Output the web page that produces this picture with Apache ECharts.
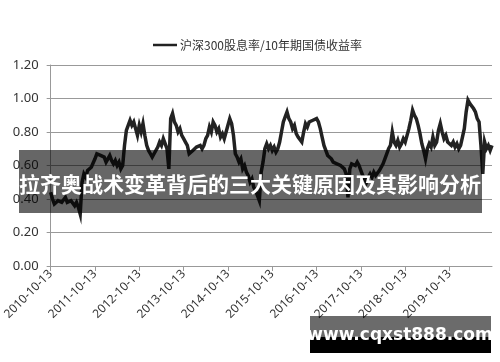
<!DOCTYPE html>
<html>
<head>
<meta charset="utf-8">
<script src="https://cdn.jsdelivr.net/npm/echarts@6/dist/echarts.min.js"></script>
<style>
html,body{margin:0;padding:0;background:#fff;}
#c{width:500px;height:362px;}
</style>
</head>
<body>
<div id="c"></div>
<script>
var seriesName = '沪深300股息率/10年期国债收益率';
var titleText = '拉齐奥战术变革背后的三大关键原因及其影响分析';
var watermarkText = 'www.cqxst888.com';
var startYear = 2010, startMonth = 10, pointCount = 240;
var tickLabels = ['2010-10-13','2011-10-13','2012-10-13','2013-10-13','2014-10-13',
  '2015-10-13','2016-10-13','2017-10-13','2018-10-13','2019-10-13'];
var yTicks = [0, 0.2, 0.4, 0.6, 0.8, 1.0, 1.2];
// semi-monthly readings (13th and 28th of each month)
var ratio = [
 0.44,0.40,0.37,0.38,
 0.39,0.40,0.38,0.39,0.41,0.38,0.37,0.39,0.38,0.36,0.38,
 0.35,0.31,0.50,0.55,
 0.53,0.57,0.56,0.59,0.60,
 0.64,0.67,0.68,0.66,0.67,
 0.65,0.62,0.64,0.66,0.63,0.61,
 0.63,0.60,0.62,0.58,0.60,
 0.72,0.81,
 0.84,0.87,0.84,0.86,0.82,
 0.78,0.84,0.80,0.85,
 0.78,0.72,0.69,0.67,
 0.65,0.67,0.68,
 0.71,0.74,0.72,0.76,0.73,
 0.70,0.58,0.88,0.91,
 0.86,0.84,0.80,0.82,0.78,
 0.76,0.74,0.72,
 0.67,0.66,0.69,0.68,0.71,0.70,
 0.72,0.70,0.72,
 0.76,0.78,0.83,0.80,0.86,0.84,0.80,0.82,0.77,0.79,
 0.76,0.80,0.84,0.88,0.85,0.78,0.67,0.65,0.62,0.64,
 0.58,0.60,0.56,0.54,0.50,0.52,0.47,0.45,0.42,0.39,
 0.56,0.62,0.70,0.73,0.70,0.72,0.69,0.71,0.68,0.70,
 0.74,0.80,0.86,0.89,0.92,0.88,
 0.86,0.82,0.84,0.79,0.77,0.76,0.74,
 0.80,0.85,0.83,0.86,0.85,0.87,0.86,0.88,0.86,0.82,0.77,0.72,0.69,
 0.66,0.67,0.64,0.62,0.63,0.61,0.62,0.60,0.61,0.58,
 0.55,0.41,0.58,0.61,0.62,0.60,0.62,0.60,0.57,
 0.54,0.52,0.50,0.53,
 0.55,0.53,0.56,0.54,0.55,0.57,0.58,
 0.61,0.64,0.67,0.70,0.72,
 0.80,
 0.74,0.72,0.75,0.71,0.73,0.76,0.74,0.78,
 0.82,0.87,0.93,0.90,
 0.88,0.84,0.79,0.73,0.69,
 0.64,
 0.70,0.73,0.71,0.77,0.72,0.74,
 0.81,0.85,
 0.80,0.76,0.78,0.74,0.75,0.72,0.74,0.71,0.73,0.70,0.72,
 0.77,0.82,
 0.92,0.99,0.97,
 0.96,0.94,0.92,0.88,0.86,
 0.72,0.55,
 0.74,0.70,0.72,0.69,0.72
];
var dates = [];
for (var i = 0; i < pointCount; i++) {
  var m = startMonth - 1 + Math.floor(i / 2);
  var y = startYear + Math.floor(m / 12);
  var mm = (m % 12) + 1;
  var dd = (i % 2) ? 28 : 13;
  dates.push(y + '-' + (mm < 10 ? '0' + mm : mm) + '-' + dd);
}
function isTick(idx, val) { return tickLabels.indexOf(val) >= 0; }

var chart = echarts.init(document.getElementById('c'), null, {renderer: 'canvas'});
chart.setOption({
  animation: false,
  backgroundColor: '#ffffff',
  textStyle: {fontFamily: '"Noto Sans", "Noto Sans CJK SC", sans-serif'},
  legend: {
    left: 148, top: 34,
    icon: 'rect', itemWidth: 24, itemHeight: 2.5, itemGap: 10,
    textStyle: {fontSize: 12, color: '#333', fontFamily: '"Noto Sans CJK SC", "Noto Sans", sans-serif', padding: [0,0,0,-2]},
    data: [seriesName]
  },
  grid: {left: 47, right: 8, top: 65, bottom: 96, containLabel: false},
  xAxis: {
    type: 'category', data: dates, boundaryGap: false,
    axisLine: {lineStyle: {color: '#999', width: 1}},
    axisTick: {show: true, interval: isTick, length: 5, lineStyle: {color: '#999'}},
    axisLabel: {interval: isTick, rotate: 45, fontSize: 12, color: '#333', margin: 6},
    splitLine: {show: false}
  },
  yAxis: {
    type: 'value', min: yTicks[0], max: yTicks[yTicks.length - 1], interval: 0.2,
    axisLine: {show: true, lineStyle: {color: '#999', width: 1}},
    axisTick: {show: true, length: 4, lineStyle: {color: '#999'}},
    axisLabel: {fontSize: 13, color: '#333', margin: 12, formatter: function (v) { return v.toFixed(2); }},
    splitLine: {show: true, lineStyle: {color: '#999', width: 1}}
  },
  series: [{
    name: seriesName, type: 'line', data: ratio, symbol: 'none', showSymbol: false,
    lineStyle: {color: '#222', width: 3.5, join: 'miter'}, itemStyle: {color: '#222'}
  }],
  graphic: [
    {type: 'rect', z: 100, shape: {x: 19, y: 150, width: 463, height: 63}, style: {fill: 'rgba(0,0,0,0.6)'}},
    {type: 'text', z: 101, x: 250, y: 184, style: {text: titleText, fill: '#fff', fontSize: 21, fontWeight: 'bold',
      fontFamily: '"Noto Sans CJK SC", sans-serif', textAlign: 'center', textVerticalAlign: 'middle'}},
    {type: 'rect', z: 100, shape: {x: 310, y: 316, width: 181, height: 21}, style: {fill: 'rgba(0,0,0,0.58)'}},
    {type: 'rect', z: 100, shape: {x: 310, y: 337, width: 181, height: 16}, style: {fill: '#000'}},
    {type: 'text', z: 101, x: 400, y: 336, style: {text: watermarkText, fill: '#fff', fontSize: 17, fontWeight: 'bold',
      fontFamily: '"DejaVu Sans", sans-serif', textAlign: 'center', textVerticalAlign: 'middle'}}
  ]
});
</script>
</body>
</html>
